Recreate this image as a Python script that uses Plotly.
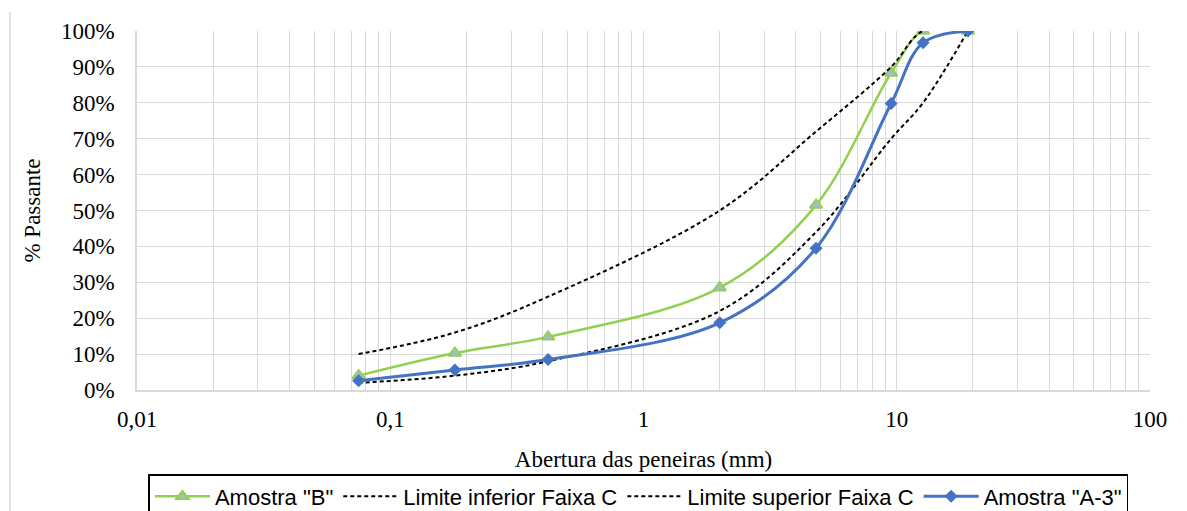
import plotly.graph_objects as go

sieves = [0.075, 0.18, 0.42, 2.0, 4.8, 9.5, 12.7, 19.1]
amostra_b = [4.0, 10.3, 14.8, 28.5, 51.5, 88.3, 100.0, 100.0]
lim_inf = [2.0, 4.0, 8.0, 22.0, 44.0, 70.0, 80.0, 100.0]
lim_sup = [10.0, 16.0, 26.0, 50.0, 72.0, 90.0, 100.0, 100.0]
amostra_a3 = [2.6, 5.6, 8.5, 18.7, 39.5, 79.8, 96.7, 100.0]

series_names = ['Amostra "B"', "Limite inferior Faixa C",
                "Limite superior Faixa C", 'Amostra "A-3"']

decades = [0.01, 0.1, 1, 10]
dec_labels = ["0,01", "0,1", "1", "10"]
y_ticks = list(range(0, 101, 10))
y_labels = [f"{v}%" for v in y_ticks]

x_tickvals = []
x_ticktext = []
for d, lab in zip(decades, dec_labels):
    for k in range(1, 10):
        x_tickvals.append(k * d)
        x_ticktext.append(lab if k == 1 else "")
x_tickvals.append(100)
x_ticktext.append("100")

fig = go.Figure()
fig.add_trace(go.Scatter(
    x=sieves, y=amostra_b, name=series_names[0], mode="lines+markers",
    line=dict(color="#92D050", width=2.5, shape="spline", smoothing=1.0),
    marker=dict(symbol="triangle-up", size=11, color="#A9B8D8",
                line=dict(color="#92D050", width=2)),
))
fig.add_trace(go.Scatter(
    x=sieves, y=lim_inf, name=series_names[1], mode="lines",
    line=dict(color="#000000", width=2, dash="4px,3px", shape="spline", smoothing=1.0),
))
fig.add_trace(go.Scatter(
    x=sieves, y=lim_sup, name=series_names[2], mode="lines",
    line=dict(color="#000000", width=2, dash="4px,3px", shape="spline", smoothing=1.0),
))
fig.add_trace(go.Scatter(
    x=sieves, y=amostra_a3, name=series_names[3], mode="lines+markers",
    line=dict(color="#4472C4", width=3, shape="spline", smoothing=1.0),
    marker=dict(symbol="diamond", size=10, color="#4472C4"),
))

fig.update_layout(
    width=1187, height=511,
    margin=dict(l=129, r=45, t=23, b=129),
    paper_bgcolor="white", plot_bgcolor="white",
    font=dict(family="Liberation Serif", size=23, color="#000000"),
    showlegend=True,
    legend=dict(
        orientation="h", xref="paper", x=0.495, xanchor="center",
        yref="container", y=0.088, yanchor="top",
        bordercolor="#000000", borderwidth=1.5,
        font=dict(family="Liberation Sans", size=22, color="#000000"),
        itemwidth=55, tracegroupgap=0,
    ),
    shapes=[dict(type="line", xref="paper", yref="paper",
                 x0=-0.1254, x1=-0.1254, y0=1.053, y1=-0.5,
                 line=dict(color="#D9D9D9", width=1.5))],
)
fig.update_xaxes(
    type="log", range=[-2, 2],
    tickvals=x_tickvals, ticktext=x_ticktext,
    showgrid=True, gridcolor="#D9D9D9", gridwidth=1,
    showline=True, linecolor="#D9D9D9", linewidth=1.5,
    ticks="", ticklabelstandoff=8, automargin=False,
    title=dict(text="Abertura das peneiras (mm)", standoff=20,
               font=dict(family="Liberation Serif", size=23)),
    zeroline=False, mirror=False,
)
fig.update_yaxes(
    range=[0, 100],
    tickvals=y_ticks, ticktext=y_labels,
    showgrid=True, gridcolor="#D9D9D9", gridwidth=1,
    showline=True, linecolor="#D9D9D9", linewidth=1.5,
    ticks="", ticklabelstandoff=16, automargin=False,
    title=dict(text="% Passante", standoff=14,
               font=dict(family="Liberation Serif", size=23)),
    zeroline=False,
)

fig.write_html("out.html")
